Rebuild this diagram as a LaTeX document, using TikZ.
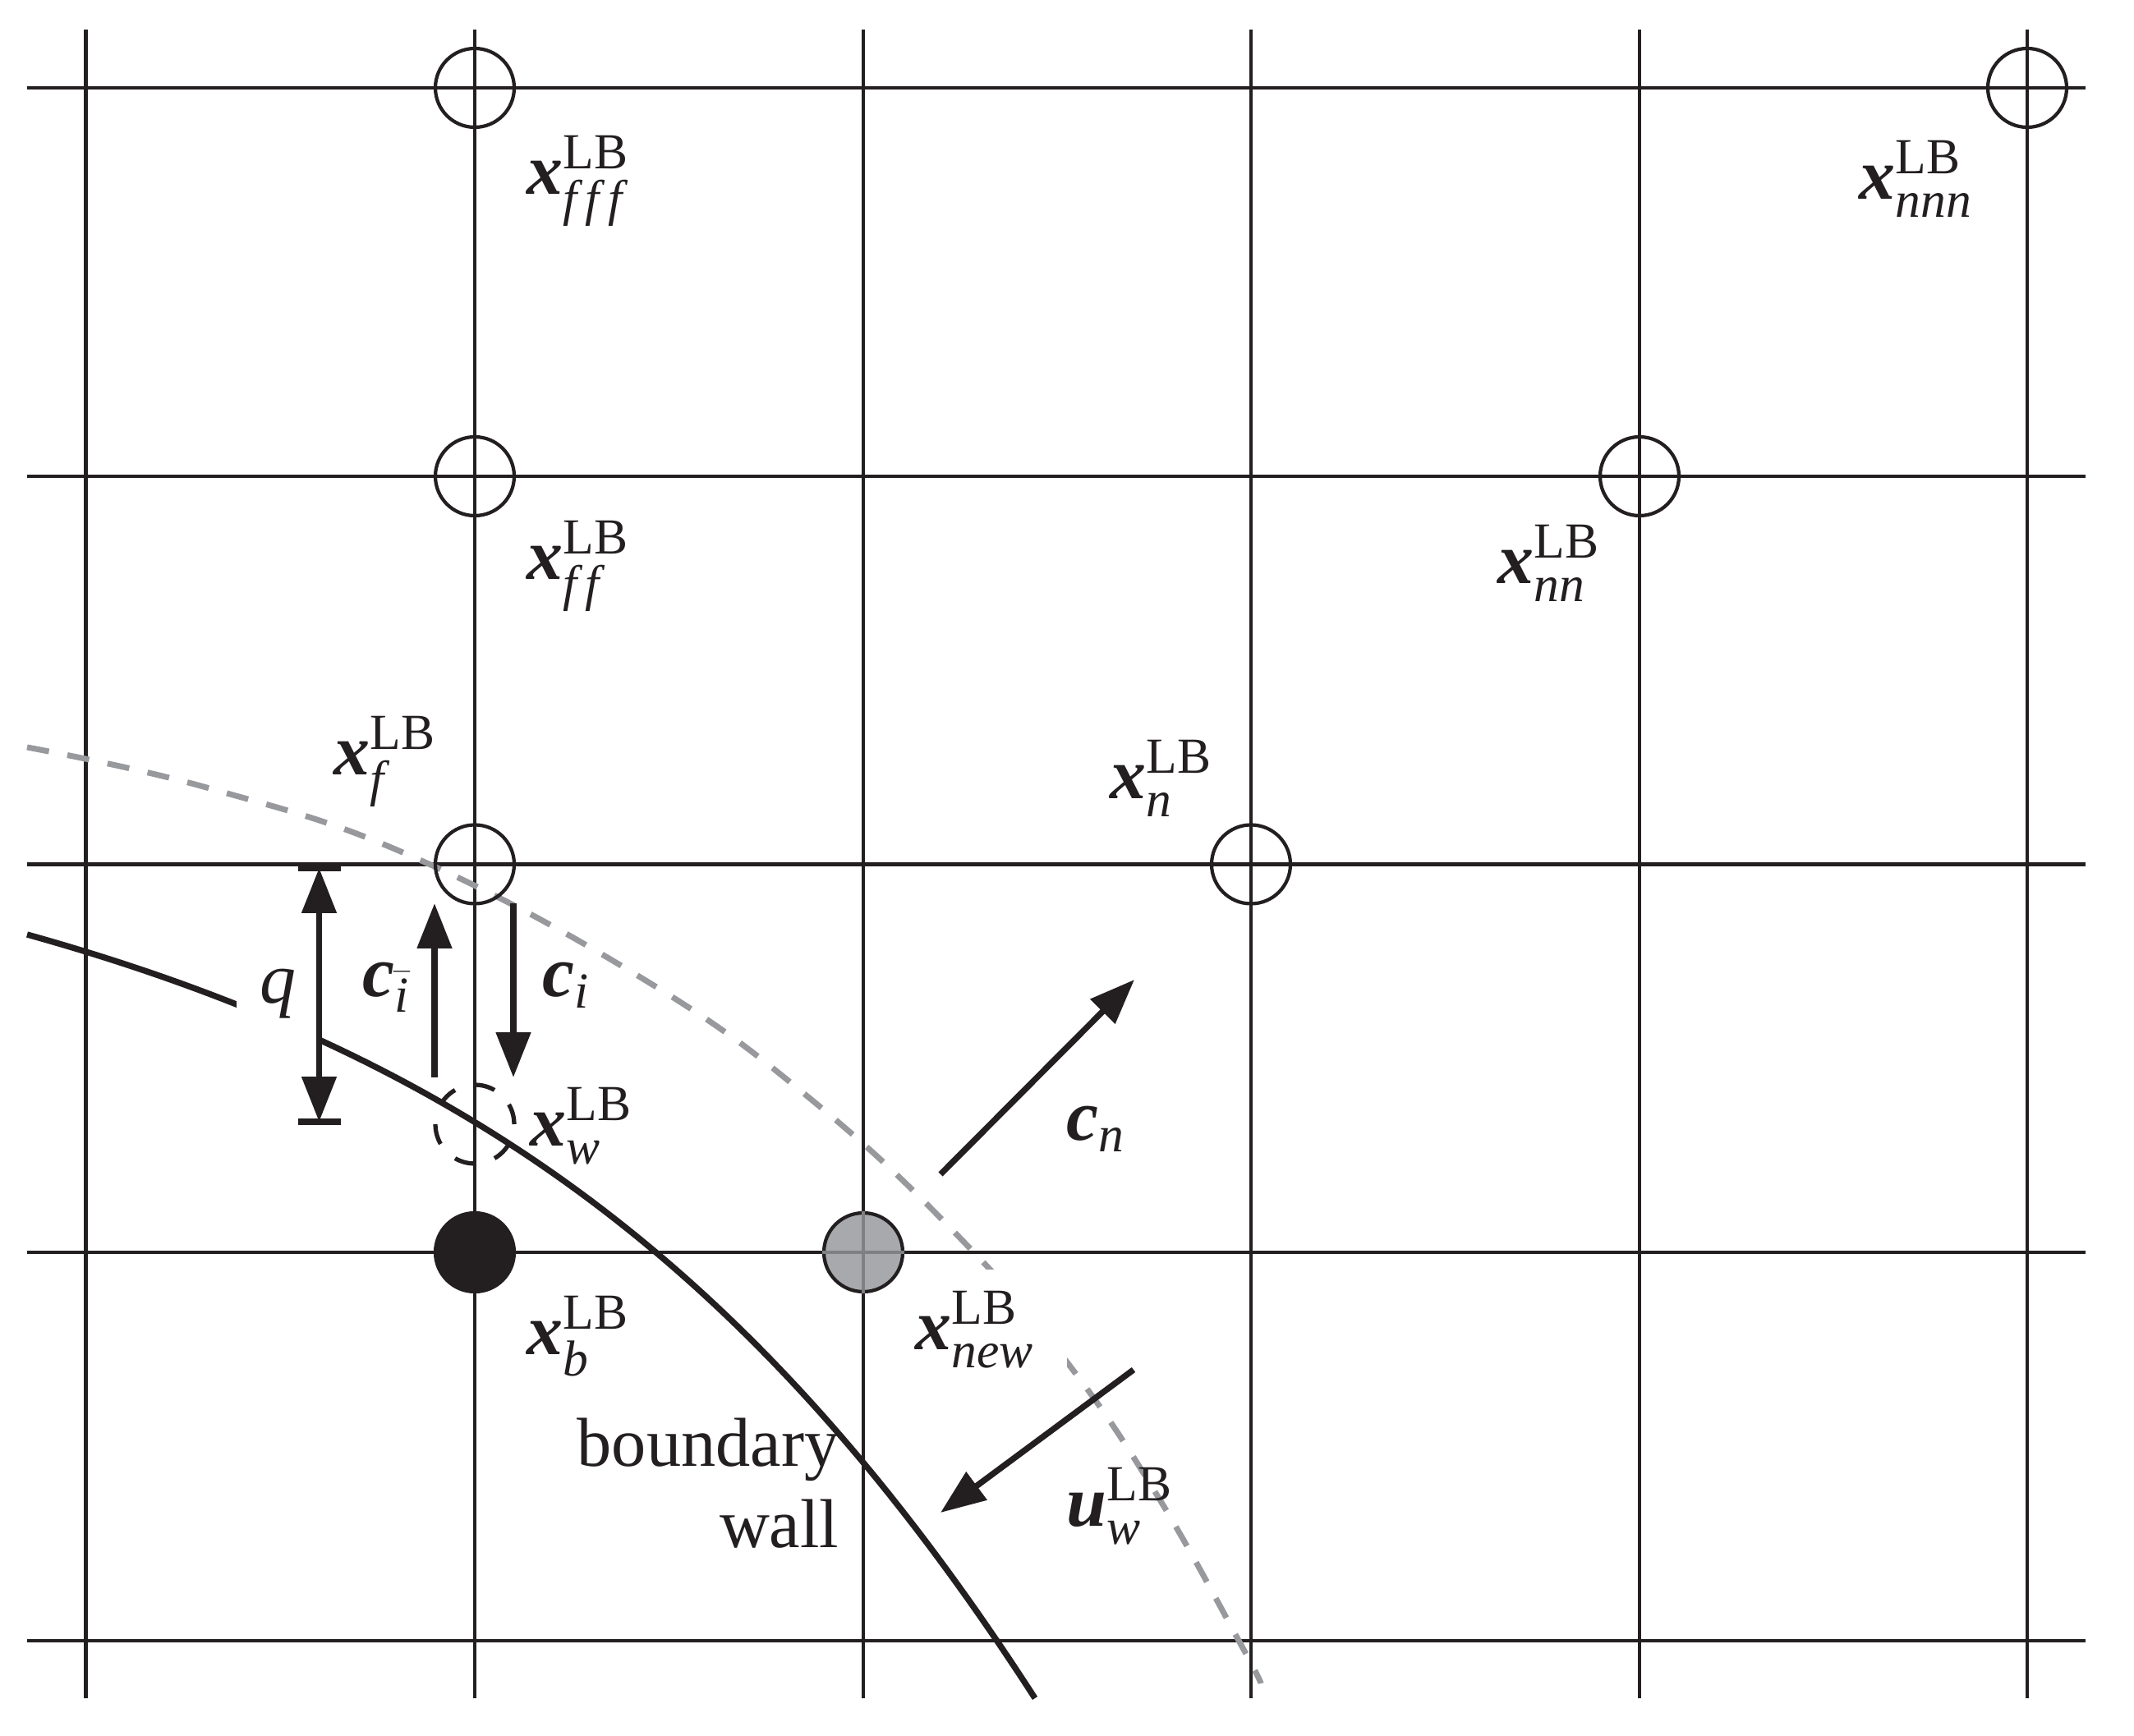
\documentclass[tikz,border=0pt]{standalone}
\usepackage{amsmath}
\usepackage{amssymb}
\usepackage{fontspec}
\setmainfont{Liberation Serif}
\usetikzlibrary{arrows.meta}
\definecolor{InkBlack}{HTML}{231F20}
\definecolor{GhostGray}{HTML}{98999D}
\definecolor{NewGray}{HTML}{A8A9AD}
\definecolor{CrossGray}{HTML}{7F8084}
% Letra vectorial en negrita cursiva
\newcommand{\vecbf}[1]{\text{\bfseries\itshape #1}}

\begin{document}
\begin{tikzpicture}[
    >={Stealth[length=15.6pt, width=11.7pt, inset=0pt]},
    % Estilos de la malla y de las curvas
    GridLine/.style={draw=InkBlack, line width=1.25pt},
    WallCurve/.style={draw=InkBlack, line width=2.1pt},
    GhostCurve/.style={draw=GhostGray, line width=2pt, dash pattern=on 7.7pt off 6.5pt},
    ArrowLine/.style={draw=InkBlack, line width=2.1pt},
    % Estilos de los nodos
    Site/.style={circle, draw=InkBlack, line width=1.2pt, minimum size=0.96cm, inner sep=0pt},
    Label/.style={text=InkBlack, inner sep=0pt, anchor=base west, font=\fontsize{25}{30}\selectfont}
]
    \useasboundingbox (0,0) rectangle (25.98,21.13);

    % --- 1. MALLA ---
    \foreach \x in {1.045, 5.78, 10.51, 15.23, 19.96, 24.68} {
        \draw[GridLine] (\x, 0.45) -- (\x, 20.77);
    }
    \foreach \y in {20.06, 15.33, 10.605, 5.88, 1.15} {
        \draw[GridLine] (0.33, \y) -- (25.39, \y);
    }

    % --- 2. CURVAS ---
    \draw[GhostCurve] plot[smooth, tension=0.7] coordinates {
        (0.33,12.03) (2.55,11.53) (5.04,10.69) (7.91,9.16) (9.95,7.68)
        (11.75,5.99) (13.03,4.49) (14.10,2.90) (15.12,1.08) (15.35,0.63)};
    \draw[WallCurve] (0.33,9.75) .. controls (5.63,8.27) and (9.2,5.72) .. (12.60,0.45);

    % --- 3. NODOS DE LA MALLA ---
    \node[Site] (SiteFFF) at (5.78,20.06) {};
    \node[Site] (SiteFF) at (5.78,15.33) {};
    \node[Site] (SiteF) at (5.78,10.605) {};
    \node[Site] (SiteN) at (15.23,10.605) {};
    \node[Site] (SiteNN) at (19.96,15.33) {};
    \node[Site] (SiteNNN) at (24.68,20.06) {};
    \node[Site, fill=InkBlack] (SiteB) at (5.78,5.88) {};
    \node[Site, fill=NewGray] (SiteNew) at (10.51,5.88) {};
    \draw[draw=CrossGray, line width=1.25pt] (SiteNew.west) -- (SiteNew.east);
    \draw[draw=CrossGray, line width=1.25pt] (SiteNew.north) -- (SiteNew.south);
    \node[Site, line width=1.5pt, dash pattern=on 7.15pt off 7.15pt] (SiteW) at (5.78,7.44) {};

    % --- 4. ETIQUETAS ---
    \node[Label] (LabelFFF) at (6.41,18.76) {$\vecbf{x}^{\mathrm{LB}}_{\mathit{f}\mkern3mu\mathit{f}\mkern3mu\mathit{f}}$};
    \node[Label] (LabelFF) at (6.41,14.07) {$\vecbf{x}^{\mathrm{LB}}_{\mathit{f}\mkern3mu\mathit{f}}$};
    \node[Label] (LabelF) at (4.06,11.69) {$\vecbf{x}^{\mathrm{LB}}_{\mathit{f}}$};
    \node[Label] (LabelN) at (13.51,11.40) {$\vecbf{x}^{\mathrm{LB}}_{\mathit{n}}$};
    \node[Label] (LabelNN) at (18.23,14.02) {$\vecbf{x}^{\mathrm{LB}}_{\mathit{nn}}$};
    \node[Label] (LabelNNN) at (22.63,18.70) {$\vecbf{x}^{\mathrm{LB}}_{\mathit{nnn}}$};
    \node[Label] (LabelW) at (6.45,7.17) {$\vecbf{x}^{\mathrm{LB}}_{\mathit{w}}$};
    \node[Label] (LabelB) at (6.41,4.63) {$\vecbf{x}^{\mathrm{LB}}_{\mathit{b}}$};
    % Estas dos tapan las curvas que pasan por debajo
    \node[Label, fill=white, anchor=west, text width=1.84cm, minimum height=1.45cm] (LabelNew) at (11.14,4.94)
        {$\vecbf{x}^{\mathrm{LB}}_{\mathit{new}}$};
    \node[Label, fill=white, anchor=center, minimum width=1.01cm, minimum height=1.2cm] (LabelQ) at (3.38,9.03) {\textit{q}};
    \node[Label] (LabelCBar) at (4.41,8.99) {$\vecbf{c}_{\bar{\mathit{i}}}$};
    \node[Label] (LabelC) at (6.60,8.99) {$\vecbf{c}_{\mathit{i}}$};
    \node[Label] (LabelCN) at (12.98,7.24) {$\vecbf{c}_{\mathit{n}}$};
    \node[Label] (LabelU) at (12.98,2.54) {$\vecbf{u}^{\mathrm{LB}}_{\mathit{w}}$};
    \node[text=InkBlack, inner sep=0pt, anchor=base east, align=right, font=\fontsize{24}{28.2}\selectfont]
        (LabelWall) at (10.22,2.28) {boundary\\wall};

    % --- 5. FLECHAS ---
    \coordinate (QTop) at (3.885,10.56);
    \coordinate (QBot) at (3.885,7.47);
    \draw[ArrowLine] ([xshift=-0.26cm]QTop) -- ([xshift=0.26cm]QTop);
    \draw[ArrowLine] ([xshift=-0.26cm]QBot) -- ([xshift=0.26cm]QBot);
    \draw[ArrowLine, <->] (QTop) -- (QBot);

    \coordinate (CBarFrom) at (5.29,8.01);
    \coordinate (CBarTo) at (5.29,10.13);
    \draw[ArrowLine, ->] (CBarFrom) -- (CBarTo);

    \coordinate (CFrom) at (6.25,10.13);
    \coordinate (CTo) at (6.25,8.01);
    \draw[ArrowLine, ->] (CFrom) -- (CTo);

    \coordinate (CNFrom) at (11.45,6.83);
    \coordinate (CNTo) at (13.81,9.20);
    \draw[ArrowLine, ->] (CNFrom) -- (CNTo);

    \coordinate (UFrom) at (13.80,4.45);
    \coordinate (UTo) at (11.45,2.71);
    \draw[ArrowLine, ->] (UFrom) -- (UTo);
\end{tikzpicture}
\end{document}
